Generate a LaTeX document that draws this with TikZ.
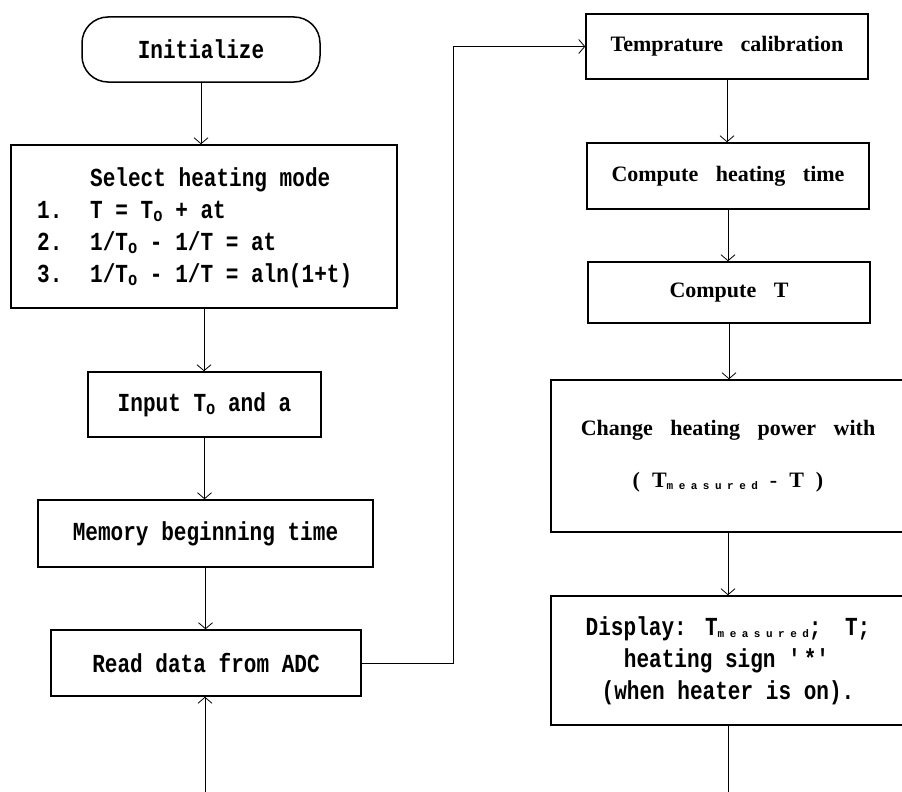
\documentclass[tikz,border=0pt]{standalone}
\usepackage{fontspec}
\usepackage{tikz}
\usetikzlibrary{positioning,arrows.meta,calc}
\newfontfamily\flowmono{Liberation Mono}[FakeStretch=0.81]
\newfontfamily\flowserif{Liberation Serif}
\newfontfamily\flowsub{Liberation Mono}[LetterSpace=50]
\newcommand{\lowsub}[1]{\raisebox{-3pt}{\fontsize{19}{19}\selectfont #1}}
\newcommand{\tinysub}[1]{\raisebox{-2.5pt}{\flowsub\bfseries\fontsize{11}{11}\selectfont #1}}
\newcommand{\widewords}{\spaceskip 17.5pt\relax}
\newcommand{\plainwords}{\spaceskip 12pt\relax}
\tikzset{
  >={Straight Barb[length=6pt,width=14pt]},
  monobox/.style={draw,line width=1.5pt,inner sep=0pt,align=center,
    font=\flowmono\bfseries\fontsize{26}{32}\selectfont},
  serifbox/.style={draw,line width=1.5pt,inner sep=0pt,align=center,
    font=\flowserif\bfseries\fontsize{22}{28}\selectfont\widewords},
  flowline/.style={->,line width=0.8pt},
}

\begin{document}
\begin{tikzpicture}[x=1pt,y=-1pt]

\useasboundingbox (0,0) rectangle (902,792);
\clip (0,0) rectangle (902,792);

% left column
\node[monobox,rounded corners=26pt,minimum width=238,minimum height=65] (init) at (201,49.5) {Initialize};
\node[monobox,minimum width=386,minimum height=163] (select) at (204,226.5) {};
\node[anchor=west,inner sep=0pt,font=\flowmono\bfseries\fontsize{26}{32}\selectfont] (modes) at (37,228) {%
  \begin{tabular}{@{}p{53pt}@{}l@{}}
     & Select heating mode\\
  1. & T = T\lowsub{o} + at\\
  2. & 1/T\lowsub{o} - 1/T = at\\
  3. & 1/T\lowsub{o} - 1/T = aln(1+t)
  \end{tabular}};
\node[monobox,minimum width=233,minimum height=65] (input) at (204.5,404.5) {Input T\lowsub{o} and a};
\node[monobox,minimum width=335,minimum height=67] (memory) at (205.5,533.5) {Memory beginning time};
\node[monobox,minimum width=310,minimum height=66] (read) at (206,663) {Read data from ADC};

% right column
\node[serifbox,minimum width=282,minimum height=65] (temp) at (727,46.5) {Temprature calibration};
\node[serifbox,minimum width=282,minimum height=66] (heat) at (728,176) {Compute heating time};
\node[serifbox,minimum width=282,minimum height=61] (compT) at (729,292.5) {Compute T};
\node[serifbox,minimum width=354,minimum height=152] (change) at (728,456)
  {Change heating power with\\[24pt] {\plainwords( T\tinysub{measured} - T )}};
\node[monobox,minimum width=354,minimum height=129] (display) at (728,660.5)
  {Display:\hspace{0.7em}T\tinysub{measured};\hspace{0.9em}T;\\heating sign \textquotesingle*\textquotesingle\\(when heater is on).};

\coordinate (loopin) at (205,792);
\coordinate (loopout) at (730,792);
\coordinate (riser) at (453,46.5);

% connectors
\draw[flowline] (init.south) -- (init.south |- select.north);
\draw[flowline] (select.south) -- (select.south |- input.north);
\draw[flowline] (input.south) -- (input.south |- memory.north);
\draw[flowline] (memory.south) -- (memory.south |- read.north);
\draw[flowline] (loopin) -- (loopin |- read.south);
\draw[flowline] (read.east) -| (riser) -- (temp.west);
\draw[flowline] (temp.south) -- (temp.south |- heat.north);
\draw[flowline] (heat.south) -- (heat.south |- compT.north);
\draw[flowline] (compT.south) -- (compT.south |- change.north);
\draw[flowline] (change.south) -- (change.south |- display.north);
\draw[line width=0.8pt] (display.south) -- (display.south |- loopout);

\end{tikzpicture}
\end{document}
